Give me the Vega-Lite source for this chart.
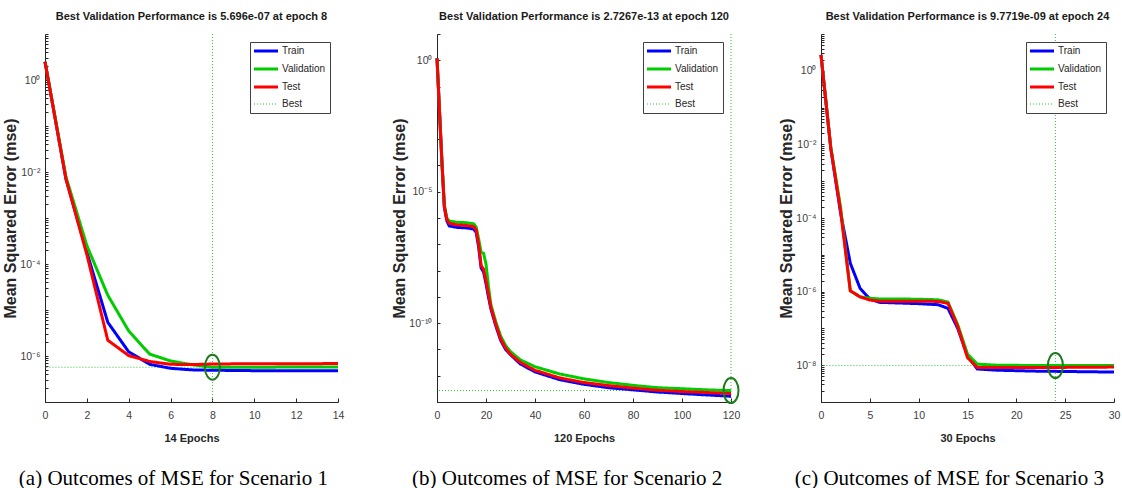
{
  "$schema": "https://vega.github.io/schema/vega-lite/v6.json",
  "background": "white",
  "padding": {"left": 2, "top": 11, "right": 2, "bottom": 0},
  "spacing": 47,
  "config": {
    "view": {"stroke": null},
    "font": "Liberation Sans",
    "axis": {"grid": false, "domainColor": "#262626", "tickColor": "#262626", "labelColor": "#404040", "labelFont": "Liberation Sans", "labelFontSize": 10.5, "titleFont": "Liberation Sans", "titleFontWeight": "bold", "titleColor": "#262626", "labelOverlap": false, "labelFlush": false},
    "axisX": {"tickSize": -4, "labelPadding": 12, "titleFontSize": 11, "titlePadding": 12},
    "axisY": {"tickSize": -3, "labelPadding": 8, "titleFontSize": 16, "titlePadding": 1},
    "legend": {"orient": "top-right", "offset": 8, "padding": 4, "strokeColor": "#404040", "fillColor": "white", "labelFont": "Liberation Sans", "labelFontSize": 10, "labelColor": "#262626", "symbolType": "stroke", "symbolSize": 576, "symbolOffset": 7, "rowPadding": 6, "labelOffset": 11, "cornerRadius": 0},
    "title": {"font": "Liberation Sans", "fontSize": 11, "fontWeight": "bold", "color": "#1a1a1a", "offset": 7}
  },
  "resolve": {"scale": {"x": "independent", "y": "independent", "color": "independent", "strokeDash": "independent"}},
  "datasets": {
    "lines1": [
      {"epoch":0,"mse":2.5,"series":"Train"},{"epoch":1,"mse":7.1e-3,"series":"Train"},{"epoch":2,"mse":1.8e-4,"series":"Train"},{"epoch":3,"mse":5.4e-6,"series":"Train"},{"epoch":4,"mse":1.23e-6,"series":"Train"},{"epoch":5,"mse":6.6e-7,"series":"Train"},{"epoch":6,"mse":5.4e-7,"series":"Train"},{"epoch":7,"mse":5.0e-7,"series":"Train"},{"epoch":8,"mse":4.9e-7,"series":"Train"},{"epoch":9,"mse":4.85e-7,"series":"Train"},{"epoch":10,"mse":4.8e-7,"series":"Train"},{"epoch":11,"mse":4.8e-7,"series":"Train"},{"epoch":12,"mse":4.78e-7,"series":"Train"},{"epoch":13,"mse":4.76e-7,"series":"Train"},{"epoch":14,"mse":4.75e-7,"series":"Train"},
      {"epoch":0,"mse":2.5,"series":"Validation"},{"epoch":1,"mse":7.9e-3,"series":"Validation"},{"epoch":2,"mse":2.5e-4,"series":"Validation"},{"epoch":3,"mse":2.1e-5,"series":"Validation"},{"epoch":4,"mse":3.5e-6,"series":"Validation"},{"epoch":5,"mse":1.1e-6,"series":"Validation"},{"epoch":6,"mse":7.8e-7,"series":"Validation"},{"epoch":7,"mse":6.5e-7,"series":"Validation"},{"epoch":8,"mse":5.696e-7,"series":"Validation"},{"epoch":9,"mse":5.7e-7,"series":"Validation"},{"epoch":10,"mse":5.72e-7,"series":"Validation"},{"epoch":11,"mse":5.73e-7,"series":"Validation"},{"epoch":12,"mse":5.74e-7,"series":"Validation"},{"epoch":13,"mse":5.75e-7,"series":"Validation"},{"epoch":14,"mse":5.75e-7,"series":"Validation"},
      {"epoch":0,"mse":2.5,"series":"Test"},{"epoch":1,"mse":7.1e-3,"series":"Test"},{"epoch":2,"mse":1.6e-4,"series":"Test"},{"epoch":3,"mse":2.2e-6,"series":"Test"},{"epoch":4,"mse":1.02e-6,"series":"Test"},{"epoch":5,"mse":7.6e-7,"series":"Test"},{"epoch":6,"mse":6.6e-7,"series":"Test"},{"epoch":7,"mse":6.5e-7,"series":"Test"},{"epoch":8,"mse":6.7e-7,"series":"Test"},{"epoch":9,"mse":6.75e-7,"series":"Test"},{"epoch":10,"mse":6.8e-7,"series":"Test"},{"epoch":11,"mse":6.8e-7,"series":"Test"},{"epoch":12,"mse":6.8e-7,"series":"Test"},{"epoch":13,"mse":6.82e-7,"series":"Test"},{"epoch":14,"mse":6.85e-7,"series":"Test"}
    ],
    "lines2": [
      {"epoch":0,"mse":1.2,"series":"Train"},{"epoch":1,"mse":1.26e-2,"series":"Train"},{"epoch":2,"mse":1.41e-4,"series":"Train"},{"epoch":3,"mse":2.5e-6,"series":"Train"},{"epoch":4,"mse":7.9e-7,"series":"Train"},{"epoch":5,"mse":5.0e-7,"series":"Train"},{"epoch":8,"mse":4.4e-7,"series":"Train"},{"epoch":12,"mse":4.2e-7,"series":"Train"},{"epoch":15,"mse":3.8e-7,"series":"Train"},{"epoch":16,"mse":2.8e-7,"series":"Train"},{"epoch":17,"mse":7.9e-8,"series":"Train"},{"epoch":18,"mse":1.26e-8,"series":"Train"},{"epoch":19,"mse":8.9e-9,"series":"Train"},{"epoch":20,"mse":3.2e-9,"series":"Train"},{"epoch":21,"mse":1.0e-9,"series":"Train"},{"epoch":22,"mse":3.5e-10,"series":"Train"},{"epoch":24,"mse":7.9e-11,"series":"Train"},{"epoch":26,"mse":2.2e-11,"series":"Train"},{"epoch":28,"mse":1.0e-11,"series":"Train"},{"epoch":30,"mse":6.3e-12,"series":"Train"},{"epoch":34,"mse":2.8e-12,"series":"Train"},{"epoch":40,"mse":1.4e-12,"series":"Train"},{"epoch":50,"mse":7.1e-13,"series":"Train"},{"epoch":60,"mse":4.7e-13,"series":"Train"},{"epoch":70,"mse":3.5e-13,"series":"Train"},{"epoch":80,"mse":2.9e-13,"series":"Train"},{"epoch":90,"mse":2.4e-13,"series":"Train"},{"epoch":100,"mse":2.1e-13,"series":"Train"},{"epoch":110,"mse":1.86e-13,"series":"Train"},{"epoch":120,"mse":1.66e-13,"series":"Train"},
      {"epoch":0,"mse":1.2,"series":"Validation"},{"epoch":1,"mse":1.26e-2,"series":"Validation"},{"epoch":2,"mse":1.41e-4,"series":"Validation"},{"epoch":3,"mse":3.2e-6,"series":"Validation"},{"epoch":4,"mse":1.0e-6,"series":"Validation"},{"epoch":5,"mse":7.6e-7,"series":"Validation"},{"epoch":8,"mse":6.9e-7,"series":"Validation"},{"epoch":12,"mse":6.6e-7,"series":"Validation"},{"epoch":15,"mse":6.0e-7,"series":"Validation"},{"epoch":16,"mse":4.5e-7,"series":"Validation"},{"epoch":17,"mse":1.58e-7,"series":"Validation"},{"epoch":18,"mse":5.0e-8,"series":"Validation"},{"epoch":19,"mse":4.5e-8,"series":"Validation"},{"epoch":20,"mse":1.78e-8,"series":"Validation"},{"epoch":21,"mse":2.5e-9,"series":"Validation"},{"epoch":22,"mse":5.0e-10,"series":"Validation"},{"epoch":24,"mse":1.12e-10,"series":"Validation"},{"epoch":26,"mse":3.2e-11,"series":"Validation"},{"epoch":28,"mse":1.41e-11,"series":"Validation"},{"epoch":30,"mse":8.3e-12,"series":"Validation"},{"epoch":34,"mse":4.0e-12,"series":"Validation"},{"epoch":40,"mse":2.2e-12,"series":"Validation"},{"epoch":50,"mse":1.17e-12,"series":"Validation"},{"epoch":60,"mse":7.6e-13,"series":"Validation"},{"epoch":70,"mse":5.5e-13,"series":"Validation"},{"epoch":80,"mse":4.3e-13,"series":"Validation"},{"epoch":90,"mse":3.5e-13,"series":"Validation"},{"epoch":100,"mse":3.2e-13,"series":"Validation"},{"epoch":110,"mse":2.9e-13,"series":"Validation"},{"epoch":120,"mse":2.7267e-13,"series":"Validation"},
      {"epoch":0,"mse":1.2,"series":"Test"},{"epoch":1,"mse":1.26e-2,"series":"Test"},{"epoch":2,"mse":1.41e-4,"series":"Test"},{"epoch":3,"mse":2.8e-6,"series":"Test"},{"epoch":4,"mse":8.9e-7,"series":"Test"},{"epoch":5,"mse":6.3e-7,"series":"Test"},{"epoch":8,"mse":5.5e-7,"series":"Test"},{"epoch":12,"mse":5.2e-7,"series":"Test"},{"epoch":15,"mse":4.7e-7,"series":"Test"},{"epoch":16,"mse":3.5e-7,"series":"Test"},{"epoch":17,"mse":1.0e-7,"series":"Test"},{"epoch":18,"mse":1.58e-8,"series":"Test"},{"epoch":19,"mse":1.12e-8,"series":"Test"},{"epoch":20,"mse":4.0e-9,"series":"Test"},{"epoch":21,"mse":1.26e-9,"series":"Test"},{"epoch":22,"mse":4.0e-10,"series":"Test"},{"epoch":24,"mse":8.9e-11,"series":"Test"},{"epoch":26,"mse":2.5e-11,"series":"Test"},{"epoch":28,"mse":1.12e-11,"series":"Test"},{"epoch":30,"mse":6.6e-12,"series":"Test"},{"epoch":34,"mse":3.2e-12,"series":"Test"},{"epoch":40,"mse":1.6e-12,"series":"Test"},{"epoch":50,"mse":8.3e-13,"series":"Test"},{"epoch":60,"mse":5.5e-13,"series":"Test"},{"epoch":70,"mse":4.2e-13,"series":"Test"},{"epoch":80,"mse":3.4e-13,"series":"Test"},{"epoch":90,"mse":2.8e-13,"series":"Test"},{"epoch":100,"mse":2.5e-13,"series":"Test"},{"epoch":110,"mse":2.3e-13,"series":"Test"},{"epoch":120,"mse":2.1e-13,"series":"Test"}
    ],
    "lines3": [
      {"epoch":0,"mse":2.7,"series":"Train"},{"epoch":1,"mse":7.9e-3,"series":"Train"},{"epoch":2,"mse":1.4e-4,"series":"Train"},{"epoch":3,"mse":5.9e-6,"series":"Train"},{"epoch":4,"mse":1.23e-6,"series":"Train"},{"epoch":5,"mse":6.3e-7,"series":"Train"},{"epoch":6,"mse":5.1e-7,"series":"Train"},{"epoch":8,"mse":4.9e-7,"series":"Train"},{"epoch":10,"mse":4.7e-7,"series":"Train"},{"epoch":12,"mse":4.4e-7,"series":"Train"},{"epoch":13,"mse":3.5e-7,"series":"Train"},{"epoch":14,"mse":1.0e-7,"series":"Train"},{"epoch":15,"mse":1.8e-8,"series":"Train"},{"epoch":16,"mse":7.9e-9,"series":"Train"},{"epoch":18,"mse":7.3e-9,"series":"Train"},{"epoch":20,"mse":7.1e-9,"series":"Train"},{"epoch":22,"mse":6.9e-9,"series":"Train"},{"epoch":24,"mse":6.8e-9,"series":"Train"},{"epoch":26,"mse":6.7e-9,"series":"Train"},{"epoch":28,"mse":6.6e-9,"series":"Train"},{"epoch":30,"mse":6.5e-9,"series":"Train"},
      {"epoch":0,"mse":2.7,"series":"Validation"},{"epoch":1,"mse":8.5e-3,"series":"Validation"},{"epoch":2,"mse":2.0e-4,"series":"Validation"},{"epoch":3,"mse":1.05e-6,"series":"Validation"},{"epoch":4,"mse":7.2e-7,"series":"Validation"},{"epoch":5,"mse":6.6e-7,"series":"Validation"},{"epoch":6,"mse":6.3e-7,"series":"Validation"},{"epoch":8,"mse":6.3e-7,"series":"Validation"},{"epoch":10,"mse":6.2e-7,"series":"Validation"},{"epoch":12,"mse":6.0e-7,"series":"Validation"},{"epoch":13,"mse":5.2e-7,"series":"Validation"},{"epoch":14,"mse":1.26e-7,"series":"Validation"},{"epoch":15,"mse":2.0e-8,"series":"Validation"},{"epoch":16,"mse":1.07e-8,"series":"Validation"},{"epoch":18,"mse":1.0e-8,"series":"Validation"},{"epoch":20,"mse":9.9e-9,"series":"Validation"},{"epoch":22,"mse":9.85e-9,"series":"Validation"},{"epoch":24,"mse":9.7719e-9,"series":"Validation"},{"epoch":26,"mse":9.8e-9,"series":"Validation"},{"epoch":28,"mse":9.8e-9,"series":"Validation"},{"epoch":30,"mse":9.85e-9,"series":"Validation"},
      {"epoch":0,"mse":2.7,"series":"Test"},{"epoch":1,"mse":7.9e-3,"series":"Test"},{"epoch":2,"mse":1.6e-4,"series":"Test"},{"epoch":3,"mse":1.05e-6,"series":"Test"},{"epoch":4,"mse":7.2e-7,"series":"Test"},{"epoch":5,"mse":5.9e-7,"series":"Test"},{"epoch":6,"mse":5.5e-7,"series":"Test"},{"epoch":8,"mse":5.5e-7,"series":"Test"},{"epoch":10,"mse":5.5e-7,"series":"Test"},{"epoch":12,"mse":5.4e-7,"series":"Test"},{"epoch":13,"mse":4.8e-7,"series":"Test"},{"epoch":14,"mse":1.12e-7,"series":"Test"},{"epoch":15,"mse":1.6e-8,"series":"Test"},{"epoch":16,"mse":8.7e-9,"series":"Test"},{"epoch":18,"mse":8.7e-9,"series":"Test"},{"epoch":20,"mse":8.7e-9,"series":"Test"},{"epoch":22,"mse":8.7e-9,"series":"Test"},{"epoch":24,"mse":8.7e-9,"series":"Test"},{"epoch":26,"mse":8.75e-9,"series":"Test"},{"epoch":28,"mse":8.8e-9,"series":"Test"},{"epoch":30,"mse":8.9e-9,"series":"Test"}
    ],
    "best1": [{"epoch":8,"mse":5.696e-7,"series":"Best"}],
    "best2": [{"epoch":120,"mse":2.7267e-13,"series":"Best"}],
    "best3": [{"epoch":24,"mse":9.7719e-9,"series":"Best"}]
  },
  "hconcat": [
    {
      "title": {"text": "(a) Outcomes of MSE for Scenario 1", "orient": "bottom", "font": "Liberation Serif", "fontSize": 21, "fontWeight": "normal", "color": "#000000", "offset": 24, "anchor": "middle"},
      "resolve": {"scale": {"color": "independent", "strokeDash": "independent"}, "legend": {"color": "independent", "strokeDash": "independent"}},
      "vconcat": [{
        "width": 293, "height": 368,
        "title": {"text": "Best Validation Performance is 5.696e-07 at epoch 8", "frame": "group", "anchor": "middle"},
        "layer": [
          {"data": {"name": "best1"}, "mark": {"type": "rule"},
           "encoding": {
             "x": {"field": "epoch", "type": "quantitative", "scale": {"domain": [0, 14], "nice": false}, "axis": {"values": [0,2,4,6,8,10,12,14], "title": "14 Epochs"}},
             "color": {"field": "series", "type": "nominal", "scale": {"domain": ["Train","Validation","Test","Best"], "range": ["#0000ff","#00cc00","#ff0000","#2ec42e"]}, "legend": {"title": null, "orient": "top-right", "encode": {"symbols": {"update": {"strokeWidth": {"signal": "datum.value === 'Best' ? 1 : 3"}}}}}},
             "strokeDash": {"field": "series", "type": "nominal", "scale": {"domain": ["Train","Validation","Test","Best"], "range": [[1,0],[1,0],[1,0],[1,2]]}, "legend": {"title": null, "orient": "top-right"}}
           }},
          {"data": {"name": "best1"}, "mark": {"type": "rule", "strokeWidth": 1},
           "encoding": {
             "x": {"field": "epoch", "type": "quantitative"}, "x2": {"datum": 0},
             "y": {"field": "mse", "type": "quantitative"},
             "color": {"field": "series", "type": "nominal"},
             "strokeDash": {"field": "series", "type": "nominal"}
           }},
          {"data": {"name": "lines1"}, "mark": {"type": "line", "strokeWidth": 3},
           "encoding": {
             "x": {"field": "epoch", "type": "quantitative"},
             "y": {"field": "mse", "type": "quantitative", "scale": {"type": "log", "domain": [1e-7, 10], "nice": false},
                   "axis": {"title": "Mean Squared Error  (mse)", "values": [1e-7,2e-7,3e-7,4e-7,5e-7,6e-7,7e-7,8e-7,9e-7,1e-6,2e-6,3e-6,4e-6,5e-6,6e-6,7e-6,8e-6,9e-6,1e-5,2e-5,3e-5,4e-5,5e-5,6e-5,7e-5,8e-5,9e-5,1e-4,2e-4,3e-4,4e-4,5e-4,6e-4,7e-4,8e-4,9e-4,0.001,0.002,0.003,0.004,0.005,0.006,0.007,0.008,0.009,0.01,0.02,0.03,0.04,0.05,0.06,0.07,0.08,0.09,0.1,0.2,0.3,0.4,0.5,0.6,0.7,0.8,0.9,1,2,3,4,5,6,7,8,9,10],
                            "labelExpr": "datum.value == 1 ? '10⁰' : datum.value == 0.01 ? '10⁻²' : datum.value == 0.0001 ? '10⁻⁴' : datum.value == 1e-6 ? '10⁻⁶' : ''"}},
             "color": {"field": "series", "type": "nominal"},
             "strokeDash": {"field": "series", "type": "nominal"}
           }},
          {"data": {"name": "best1"}, "mark": {"type": "point", "shape": "M-0.6,0A0.6,1 0 1,0 0.6,0A0.6,1 0 1,0 -0.6,0Z", "filled": false, "size": 625, "color": "#1f7a1f", "strokeWidth": 2, "opacity": 1},
           "encoding": {"x": {"field": "epoch", "type": "quantitative"}, "y": {"field": "mse", "type": "quantitative"}}}
        ]
      }]
    },
    {
      "spacing": 35,
      "resolve": {"scale": {"x": "independent", "y": "independent", "color": "independent", "strokeDash": "independent"}},
      "hconcat": [
        {
          "title": {"text": "(b) Outcomes of MSE for Scenario 2", "orient": "bottom", "font": "Liberation Serif", "fontSize": 21, "fontWeight": "normal", "color": "#000000", "offset": 24, "anchor": "middle"},
          "resolve": {"scale": {"color": "independent", "strokeDash": "independent"}, "legend": {"color": "independent", "strokeDash": "independent"}},
          "vconcat": [{
            "width": 294, "height": 368,
            "title": {"text": "Best Validation Performance is 2.7267e-13 at epoch 120", "frame": "group", "anchor": "middle"},
            "layer": [
              {"data": {"name": "best2"}, "mark": {"type": "rule"},
               "encoding": {
                 "x": {"field": "epoch", "type": "quantitative", "scale": {"domain": [0, 120], "nice": false}, "axis": {"values": [0,20,40,60,80,100,120], "title": "120 Epochs"}},
                 "color": {"field": "series", "type": "nominal", "scale": {"domain": ["Train","Validation","Test","Best"], "range": ["#0000ff","#00cc00","#ff0000","#2ec42e"]}, "legend": {"title": null, "orient": "top-right", "encode": {"symbols": {"update": {"strokeWidth": {"signal": "datum.value === 'Best' ? 1 : 3"}}}}}},
                 "strokeDash": {"field": "series", "type": "nominal", "scale": {"domain": ["Train","Validation","Test","Best"], "range": [[1,0],[1,0],[1,0],[1,2]]}, "legend": {"title": null, "orient": "top-right"}}
               }},
              {"data": {"name": "best2"}, "mark": {"type": "rule", "strokeWidth": 1},
               "encoding": {
                 "x": {"field": "epoch", "type": "quantitative"}, "x2": {"datum": 0},
                 "y": {"field": "mse", "type": "quantitative"},
                 "color": {"field": "series", "type": "nominal"},
                 "strokeDash": {"field": "series", "type": "nominal"}
               }},
              {"data": {"name": "lines2"}, "mark": {"type": "line", "strokeWidth": 3},
               "encoding": {
                 "x": {"field": "epoch", "type": "quantitative"},
                 "y": {"field": "mse", "type": "quantitative", "scale": {"type": "log", "domain": [1e-13, 10], "nice": false},
                       "axis": {"title": "Mean Squared Error  (mse)", "values": [1e-13,1e-12,1e-11,1e-10,1e-9,1e-8,1e-7,1e-6,1e-5,1e-4,0.001,0.01,0.1,1,10],
                                "labelExpr": "datum.value == 1 ? '10⁰' : datum.value == 1e-5 ? '10⁻⁵' : datum.value == 1e-10 ? '10⁻¹⁰' : ''"}},
                 "color": {"field": "series", "type": "nominal"},
                 "strokeDash": {"field": "series", "type": "nominal"}
               }},
              {"data": {"name": "best2"}, "mark": {"type": "point", "shape": "M-0.6,0A0.6,1 0 1,0 0.6,0A0.6,1 0 1,0 -0.6,0Z", "filled": false, "size": 625, "color": "#1f7a1f", "strokeWidth": 2, "opacity": 1},
               "encoding": {"x": {"field": "epoch", "type": "quantitative"}, "y": {"field": "mse", "type": "quantitative"}}}
            ]
          }]
        },
        {
          "title": {"text": "(c) Outcomes of MSE for Scenario 3", "orient": "bottom", "font": "Liberation Serif", "fontSize": 21, "fontWeight": "normal", "color": "#000000", "offset": 24, "anchor": "middle"},
          "resolve": {"scale": {"color": "independent", "strokeDash": "independent"}, "legend": {"color": "independent", "strokeDash": "independent"}},
          "vconcat": [{
            "width": 293, "height": 368,
            "title": {"text": "Best Validation Performance is 9.7719e-09 at epoch 24", "frame": "group", "anchor": "middle"},
            "layer": [
              {"data": {"name": "best3"}, "mark": {"type": "rule"},
               "encoding": {
                 "x": {"field": "epoch", "type": "quantitative", "scale": {"domain": [0, 30], "nice": false}, "axis": {"values": [0,5,10,15,20,25,30], "title": "30 Epochs"}},
                 "color": {"field": "series", "type": "nominal", "scale": {"domain": ["Train","Validation","Test","Best"], "range": ["#0000ff","#00cc00","#ff0000","#2ec42e"]}, "legend": {"title": null, "orient": "top-right", "encode": {"symbols": {"update": {"strokeWidth": {"signal": "datum.value === 'Best' ? 1 : 3"}}}}}},
                 "strokeDash": {"field": "series", "type": "nominal", "scale": {"domain": ["Train","Validation","Test","Best"], "range": [[1,0],[1,0],[1,0],[1,2]]}, "legend": {"title": null, "orient": "top-right"}}
               }},
              {"data": {"name": "best3"}, "mark": {"type": "rule", "strokeWidth": 1},
               "encoding": {
                 "x": {"field": "epoch", "type": "quantitative"}, "x2": {"datum": 0},
                 "y": {"field": "mse", "type": "quantitative"},
                 "color": {"field": "series", "type": "nominal"},
                 "strokeDash": {"field": "series", "type": "nominal"}
               }},
              {"data": {"name": "lines3"}, "mark": {"type": "line", "strokeWidth": 3},
               "encoding": {
                 "x": {"field": "epoch", "type": "quantitative"},
                 "y": {"field": "mse", "type": "quantitative", "scale": {"type": "log", "domain": [1e-9, 10], "nice": false},
                       "axis": {"title": "Mean Squared Error  (mse)", "values": [1e-9,2e-9,3e-9,4e-9,5e-9,6e-9,7e-9,8e-9,9e-9,1e-8,2e-8,3e-8,4e-8,5e-8,6e-8,7e-8,8e-8,9e-8,1e-7,2e-7,3e-7,4e-7,5e-7,6e-7,7e-7,8e-7,9e-7,1e-6,2e-6,3e-6,4e-6,5e-6,6e-6,7e-6,8e-6,9e-6,1e-5,2e-5,3e-5,4e-5,5e-5,6e-5,7e-5,8e-5,9e-5,1e-4,2e-4,3e-4,4e-4,5e-4,6e-4,7e-4,8e-4,9e-4,0.001,0.002,0.003,0.004,0.005,0.006,0.007,0.008,0.009,0.01,0.02,0.03,0.04,0.05,0.06,0.07,0.08,0.09,0.1,0.2,0.3,0.4,0.5,0.6,0.7,0.8,0.9,1,2,3,4,5,6,7,8,9,10],
                                "labelExpr": "datum.value == 1 ? '10⁰' : datum.value == 0.01 ? '10⁻²' : datum.value == 0.0001 ? '10⁻⁴' : datum.value == 1e-6 ? '10⁻⁶' : datum.value == 1e-8 ? '10⁻⁸' : ''"}},
                 "color": {"field": "series", "type": "nominal"},
                 "strokeDash": {"field": "series", "type": "nominal"}
               }},
              {"data": {"name": "best3"}, "mark": {"type": "point", "shape": "M-0.6,0A0.6,1 0 1,0 0.6,0A0.6,1 0 1,0 -0.6,0Z", "filled": false, "size": 625, "color": "#1f7a1f", "strokeWidth": 2, "opacity": 1},
               "encoding": {"x": {"field": "epoch", "type": "quantitative"}, "y": {"field": "mse", "type": "quantitative"}}}
            ]
          }]
        }
      ]
    }
  ]
}
